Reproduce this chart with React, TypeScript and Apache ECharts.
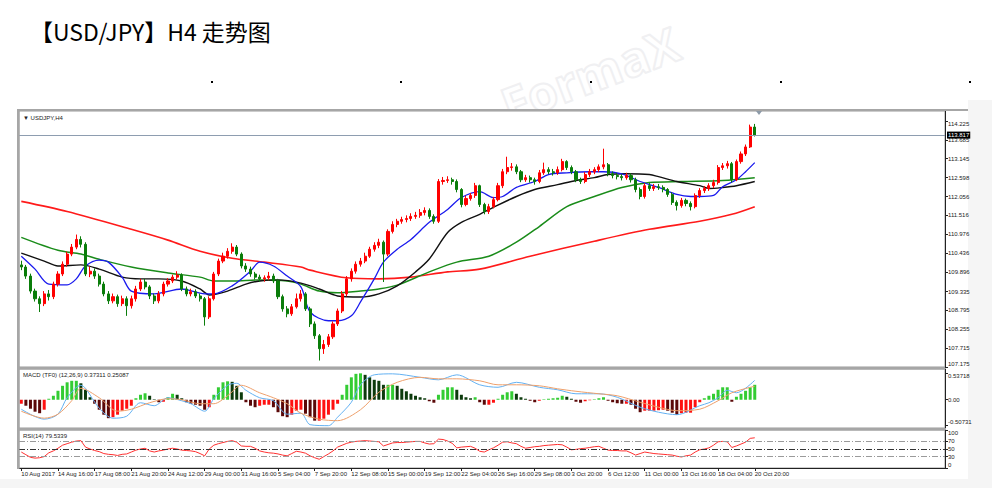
import React, { useEffect, useRef } from 'react';
import * as echarts from 'echarts';

const titleText = '【USD/JPY】H4 走势图';
const symbolLabel = '▼ USDJPY,H4';
const macdLabel = 'MACD (TF0) (12,26,9) 0.37311 0.25087';
const rsiLabel = 'RSI(14) 79.5339';

const timeLabels = ['10 Aug 2017', '14 Aug 16:00', '17 Aug 08:00', '21 Aug 20:00', '24 Aug 12:00', '29 Aug 00:00', '31 Aug 16:00', '5 Sep 04:00', '7 Sep 20:00', '12 Sep 08:00', '15 Sep 00:00', '19 Sep 12:00', '22 Sep 04:00', '26 Sep 16:00', '29 Sep 08:00', '3 Oct 20:00', '6 Oct 12:00', '11 Oct 00:00', '13 Oct 16:00', '18 Oct 04:00', '20 Oct 20:00'];
const barsPerLabel = 8;
const totalSlots = 202;

const priceTicks = ['114.225', '113.685', '113.145', '112.598', '112.056', '111.516', '110.976', '110.436', '109.896', '109.335', '108.795', '108.255', '107.715', '107.175'];
const macdTicks = ['0.53718', '0.00', '-0.50731'];
const rsiTicks = ['100', '70', '50', '30', '0'];
const rsiLevels = [70, 50, 30];

const opens = [110.10,110.04,109.78,109.35,109.13,108.99,109.27,109.19,109.55,109.84,
110.12,110.41,110.61,110.83,110.69,109.84,109.92,109.78,109.55,109.27,
109.07,109.19,108.99,109.13,108.93,109.13,109.41,109.61,109.47,109.21,
109.07,109.27,109.55,109.64,109.75,109.81,109.41,109.27,109.33,109.21,
109.13,108.61,109.13,109.84,110.21,110.35,110.49,110.61,110.41,110.07,
109.98,109.84,109.75,109.70,109.73,109.78,109.64,109.19,108.84,108.70,
108.90,109.13,109.27,108.84,108.41,108.07,107.70,107.82,108.04,108.41,
108.78,109.27,109.70,109.92,110.12,110.21,110.35,110.55,110.66,110.75,
110.41,111.06,111.26,111.35,111.40,111.43,111.49,111.52,111.60,111.66,
111.49,111.35,112.49,112.52,112.54,112.49,112.26,111.83,112.00,112.09,
112.37,111.83,111.63,111.77,111.97,112.37,112.77,112.89,112.91,112.77,
112.54,112.60,112.54,112.49,112.74,112.83,112.77,112.74,112.83,113.06,
112.89,112.77,112.54,112.49,112.69,112.77,112.83,112.91,112.97,112.71,
112.66,112.63,112.60,112.66,112.54,112.26,112.06,112.37,112.29,112.34,
112.32,112.26,112.12,111.89,111.80,111.95,111.86,111.77,112.09,112.23,
112.29,112.37,112.46,112.89,112.94,113.00,112.54,113.06,113.28,113.48,
114.05];

const closes = [110.04,109.78,109.35,109.13,108.99,109.27,109.19,109.55,109.84,110.12,
110.41,110.61,110.83,110.69,109.84,109.92,109.78,109.55,109.27,109.07,
109.19,108.99,109.13,108.93,109.13,109.41,109.61,109.47,109.21,109.07,
109.27,109.55,109.64,109.75,109.81,109.41,109.27,109.33,109.21,109.13,
108.61,109.13,109.84,110.21,110.35,110.49,110.61,110.41,110.07,109.98,
109.84,109.75,109.70,109.73,109.78,109.64,109.19,108.84,108.70,108.90,
109.13,109.27,108.84,108.41,108.07,107.70,107.82,108.04,108.41,108.78,
109.27,109.70,109.92,110.12,110.21,110.35,110.55,110.66,110.75,110.41,
111.06,111.26,111.35,111.40,111.43,111.49,111.52,111.60,111.66,111.49,
111.35,112.49,112.52,112.54,112.49,112.26,111.83,112.00,112.09,112.37,
111.83,111.63,111.77,111.97,112.37,112.77,112.89,112.91,112.77,112.54,
112.60,112.54,112.49,112.74,112.83,112.77,112.74,112.83,113.06,112.89,
112.77,112.54,112.49,112.69,112.77,112.83,112.91,112.97,112.71,112.66,
112.63,112.60,112.66,112.54,112.26,112.06,112.37,112.29,112.34,112.32,
112.26,112.12,111.89,111.80,111.95,111.86,111.77,112.09,112.23,112.29,
112.37,112.46,112.89,112.94,113.00,112.54,113.06,113.28,113.48,114.05,
113.817];

const lows = [109.95,109.70,109.28,109.05,108.75,108.92,109.08,109.12,109.48,109.78,
110.05,110.35,110.55,110.60,109.78,109.75,109.70,109.48,109.20,108.98,
109.00,108.90,108.92,108.64,108.85,109.05,109.35,109.40,109.12,108.98,
109.00,109.20,109.48,109.58,109.68,109.35,109.20,109.20,109.15,109.05,
108.36,108.55,109.08,109.78,110.15,110.28,110.42,110.35,110.00,109.90,
109.76,109.68,109.62,109.62,109.66,109.58,109.12,108.76,108.60,108.64,
108.85,109.05,108.78,108.32,107.98,107.36,107.55,107.75,107.98,108.35,
108.72,109.20,109.62,109.85,110.05,110.15,110.30,110.48,110.58,109.61,
110.35,111.00,111.18,111.28,111.32,111.36,111.42,111.45,111.52,111.42,
111.28,111.30,112.40,112.45,112.40,112.18,111.75,111.78,111.94,112.02,
111.76,111.55,111.56,111.72,111.92,112.30,112.70,112.80,112.70,112.47,
112.48,112.46,112.40,112.44,112.68,112.70,112.66,112.68,112.78,112.82,
112.70,112.47,112.42,112.44,112.62,112.70,112.76,112.84,112.64,112.58,
112.55,112.52,112.54,112.46,112.18,111.98,112.00,112.22,112.22,112.25,
112.18,112.05,111.82,111.66,111.74,111.78,111.66,111.72,112.02,112.16,
112.22,112.30,112.40,112.82,112.86,112.46,112.50,113.00,113.22,113.45,
113.78];

const highs = [110.22,110.10,109.85,109.42,109.20,109.35,109.38,109.62,109.92,110.20,
110.48,110.70,110.97,110.92,110.75,110.05,110.00,109.85,109.62,109.35,
109.28,109.25,109.22,109.20,109.22,109.50,109.70,109.70,109.52,109.28,
109.35,109.62,109.72,109.82,109.92,109.86,109.48,109.42,109.40,109.28,
109.18,109.20,109.90,110.28,110.45,110.58,110.72,110.67,110.46,110.15,
110.05,109.90,109.82,109.80,109.90,109.85,109.70,109.25,108.92,108.98,
109.28,109.38,109.32,108.90,108.48,108.12,107.95,108.12,108.48,108.85,
109.35,109.78,110.00,110.20,110.30,110.45,110.62,110.75,110.85,110.80,
111.12,111.35,111.42,111.48,111.52,111.58,111.62,111.70,111.75,111.72,
111.55,112.56,112.62,112.64,112.60,112.55,112.30,112.08,112.16,112.45,
112.40,111.88,111.85,112.05,112.45,112.85,113.20,113.02,112.98,112.82,
112.68,112.66,112.60,112.82,113.03,112.90,112.85,112.92,113.14,113.10,
112.95,112.82,112.60,112.76,112.85,112.90,112.98,113.43,113.02,112.78,
112.74,112.70,112.74,112.72,112.60,112.32,112.44,112.45,112.42,112.42,
112.38,112.30,112.18,111.95,112.02,112.00,111.92,112.15,112.30,112.36,
112.44,112.54,112.96,113.02,113.08,113.05,113.12,113.35,113.55,114.12,
114.14];

// moving averages read at sample bars: [bar index, value]
const maBlue = [[0,110.35],[3,109.98],[6,109.55],[10,109.53],[12,109.70],[14,110.07],[17,110.24],[19,110.18],[22,109.75],[24,109.35],[29,109.27],[35,109.41],[40,109.27],[42,109.27],[46,109.50],[50,109.92],[52,110.18],[55,110.07],[58,109.78],[61,109.47],[63,108.75],[67,108.50],[69,108.50],[72,108.64],[74,109.04],[77,109.70],[79,110.18],[82,110.55],[85,110.83],[89,111.32],[93,111.69],[96,112.03],[100,112.20],[103,112.03],[105,112.06],[108,112.32],[112,112.49],[115,112.69],[119,112.74],[124,112.77],[127,112.77],[131,112.71],[135,112.49],[139,112.32],[143,112.12],[146,112.06],[148,112.06],[151,112.09],[153,112.34],[156,112.54],[158,112.77],[160,113.03]];
const maBlack = [[0,110.44],[5,110.21],[8,110.07],[13,110.10],[17,109.98],[22,109.75],[26,109.70],[30,109.70],[35,109.64],[39,109.41],[41,109.24],[45,109.35],[49,109.55],[52,109.64],[56,109.67],[61,109.58],[65,109.41],[69,109.21],[74,109.18],[78,109.27],[82,109.50],[86,109.90],[89,110.27],[93,111.03],[96,111.32],[100,111.55],[103,111.75],[108,112.06],[112,112.26],[117,112.40],[121,112.52],[125,112.60],[128,112.69],[132,112.71],[137,112.69],[139,112.63],[143,112.49],[148,112.37],[150,112.29],[153,112.32],[156,112.37],[160,112.49]];
const maGreen = [[0,110.89],[8,110.52],[13,110.41],[17,110.26],[24,110.04],[32,109.87],[39,109.75],[42,109.64],[46,109.64],[52,109.67],[58,109.64],[61,109.55],[65,109.35],[69,109.30],[74,109.35],[78,109.41],[82,109.52],[89,109.90],[95,110.18],[102,110.35],[108,110.75],[113,111.20],[119,111.77],[125,112.06],[131,112.32],[137,112.46],[144,112.49],[153,112.52],[160,112.60]];
const maRed = [[0,111.92],[10,111.63],[24,111.12],[32,110.81],[39,110.49],[46,110.29],[53,110.18],[61,110.04],[63,109.95],[71,109.73],[78,109.70],[85,109.75],[93,109.90],[100,109.98],[111,110.35],[125,110.78],[137,111.12],[148,111.35],[155,111.55],[160,111.77]];

const macdHist = [-0.08,-0.12,-0.18,-0.24,-0.27,-0.20,0.02,0.08,0.18,0.28,
0.35,0.38,0.38,0.33,0.20,0.05,-0.08,-0.20,-0.30,-0.37,
-0.35,-0.30,-0.22,-0.18,-0.12,0.03,0.10,0.13,0.08,0.01,
-0.05,-0.04,0.05,0.12,0.10,0.03,-0.05,-0.08,-0.10,-0.12,
-0.20,-0.15,0.10,0.25,0.35,0.37,0.36,0.28,0.15,-0.05,
-0.12,-0.15,-0.12,-0.10,-0.10,-0.15,-0.25,-0.33,-0.35,-0.30,
-0.22,-0.20,-0.28,-0.35,-0.42,-0.42,-0.38,-0.30,-0.20,-0.08,
0.10,0.30,0.45,0.52,0.53,0.50,0.45,0.40,0.38,0.30,
0.30,0.30,0.28,0.22,0.17,0.12,0.08,0.05,0.03,-0.03,
-0.06,0.10,0.20,0.25,0.25,0.20,0.10,0.05,0.03,0.05,
-0.05,-0.10,-0.10,-0.06,0.02,0.10,0.15,0.17,0.12,0.05,
0.02,-0.02,-0.05,-0.02,0.01,0.02,0.03,0.04,0.08,0.06,
0.02,-0.04,-0.06,-0.03,-0.01,0.01,0.03,0.05,-0.02,-0.05,
-0.07,-0.08,-0.08,-0.10,-0.18,-0.25,-0.22,-0.22,-0.22,-0.21,
-0.20,-0.22,-0.26,-0.30,-0.27,-0.26,-0.26,-0.15,-0.05,0.03,
0.08,0.12,0.20,0.25,0.25,-0.04,0.06,0.12,0.18,0.25,
0.30];
const macdMain = [[0,-0.19],[5,-0.39],[8,-0.29],[10,0.04],[13,0.29],[14,0.23],[17,-0.17],[20,-0.37],[23,-0.33],[26,-0.06],[29,-0.12],[32,0.04],[35,-0.02],[37,-0.08],[40,-0.23],[42,0.02],[45,0.29],[47,0.33],[49,0.19],[52,0.04],[55,-0.02],[58,-0.29],[61,-0.27],[63,-0.50],[67,-0.52],[69,-0.35],[72,-0.05],[74,0.30],[77,0.50],[81,0.52],[87,0.45],[91,0.40],[95,0.50],[100,0.30],[104,0.25],[108,0.35],[113,0.25],[117,0.20],[121,0.12],[126,0.12],[130,0.05],[135,-0.15],[139,-0.25],[143,-0.30],[148,-0.12],[150,-0.06],[152,0.04],[154,0.19],[156,0.14],[160,0.39]];
const macdSignal = [[0,-0.23],[5,-0.37],[8,-0.29],[11,-0.02],[13,0.23],[17,0.04],[21,-0.23],[24,-0.19],[28,-0.06],[32,0.02],[35,0.0],[39,-0.08],[42,-0.08],[45,0.08],[48,0.29],[52,0.14],[55,0.04],[58,-0.08],[61,-0.27],[65,-0.39],[69,-0.42],[74,-0.20],[78,0.15],[82,0.35],[87,0.45],[91,0.42],[95,0.42],[100,0.38],[104,0.30],[108,0.30],[113,0.28],[117,0.22],[121,0.17],[126,0.12],[130,0.08],[135,-0.05],[139,-0.15],[143,-0.22],[148,-0.19],[152,-0.02],[155,0.14],[159,0.25],[160,0.27]];

const rsi = [42,35,28,26,27,30,40,45,52,60,
64,68,71,72,55,50,46,43,38,36,
35,33,36,37,42,47,50,52,45,42,
45,47,50,52,50,47,46,45,43,38,
32,50,60,64,67,70,72,68,58,57,
57,52,45,42,40,39,37,34,32,38,
44,42,39,32,27,23,30,37,45,55,
60,65,68,70,71,72,71,70,69,58,
62,66,67,67,68,69,70,70,66,63,
64,76,75,71,65,53,55,56,57,52,
44,42,48,53,60,68,69,66,64,57,
52,54,56,57,59,60,61,62,61,55,
48,49,51,52,54,56,57,52,47,46,
46,45,45,40,34,38,42,40,38,37,
36,35,34,31,29,32,34,42,48,50,
53,60,69,70,69,54,58,63,68,78,
79.5];

const FONT = 'Liberation Sans';

export default function App() {
  const ref = useRef<HTMLDivElement>(null);
  useEffect(() => {
    if (!ref.current) return;
    const chart = echarts.init(ref.current, undefined, { renderer: 'svg' });
    const cats = Array.from({ length: totalSlots }, (_, i) => String(i));
    const n = closes.length;
    const candles = closes.map((c, i) => [opens[i], c, lows[i], highs[i]]);
    const histData = macdHist.map((v, i) => {
      const prev = i > 0 ? macdHist[i - 1] : v;
      const rising = v >= prev;
      let color;
      if (v >= 0) color = rising ? '#33cc33' : '#0c3a0c';
      else color = rising ? '#ff1010' : '#5a0808';
      return { value: v, itemStyle: { color } };
    });
    const priceVals = priceTicks.map(Number);
    const macdVals = macdTicks.map(Number);
    const rsiVals = rsiTicks.map(Number);
    const labelAt = (idx: number) => idx % barsPerLabel === 0 && idx / barsPerLabel < timeLabels.length;
    const lastPrice = closes[n - 1];

    const axisText = { fontSize: 6, color: '#222', fontFamily: FONT };
    const gridBase = { left: 19, width: 926, show: true, borderColor: '#9a9a9a', borderWidth: 1, backgroundColor: '#fff' };
    const hiddenX = (gi: number) => ({
      type: 'category', gridIndex: gi, data: cats, boundaryGap: true,
      axisLine: { show: false }, axisTick: { show: false }, axisLabel: { show: false }, splitLine: { show: false },
    });
    const maLine = (data: number[][], color: string, width: number) => ({
      type: 'line', xAxisIndex: 0, yAxisIndex: 0, data, showSymbol: false, smooth: 0.3,
      lineStyle: { color, width }, silent: true, z: 3,
    });
    const yAx = (gi: number, min: number, max: number, vals: number[], texts: string[]) => ({
      type: 'value', gridIndex: gi, position: 'right', min, max,
      axisLine: { show: true, lineStyle: { color: '#222' } },
      axisTick: { show: true, length: 3, customValues: vals, lineStyle: { color: '#222' } },
      axisLabel: {
        show: true, customValues: vals, margin: 3, ...axisText,
        verticalAlignMinLabel: 'top', verticalAlignMaxLabel: 'bottom',
        formatter: (v: number) => texts[vals.indexOf(v)] ?? '',
      },
      splitLine: { show: false },
    });

    const option: any = {
      animation: false,
      backgroundColor: '#fff',
      textStyle: { fontFamily: FONT },
      grid: [
        { ...gridBase, top: 111, height: 256 },
        { ...gridBase, top: 369, height: 59 },
        { ...gridBase, top: 430, height: 38 },
      ],
      xAxis: [
        hiddenX(0),
        hiddenX(1),
        {
          type: 'category', gridIndex: 2, data: cats, boundaryGap: true,
          axisLine: { show: true, lineStyle: { color: '#222', width: 1 } },
          axisTick: { show: true, interval: (i: number) => labelAt(i), alignWithLabel: true, length: 3, lineStyle: { color: '#222' } },
          axisLabel: {
            show: true, interval: (i: number) => labelAt(i), align: 'left', margin: 3, ...axisText,
            showMinLabel: true, showMaxLabel: true, hideOverlap: false,
            formatter: (_v: string, i: number) => (labelAt(i) ? timeLabels[i / barsPerLabel] : ''),
          },
          splitLine: { show: false },
        },
      ],
      yAxis: [
        yAx(0, 107.175, 114.51, priceVals, priceTicks),
        yAx(1, -0.567, 0.617, macdVals, macdTicks),
        yAx(2, 0, 100, rsiVals, rsiTicks),
      ],
      series: [
        maLine(maRed, '#ff1a1a', 1.6),
        maLine(maGreen, '#1a8c1a', 1.5),
        maLine(maBlack, '#111111', 1.4),
        maLine(maBlue, '#1a1aee', 1.3),
        {
          type: 'candlestick', xAxisIndex: 0, yAxisIndex: 0, data: candles, barWidth: 2.6, z: 4,
          itemStyle: { color: '#ff0000', color0: '#0a7d0a', borderColor: '#ff0000', borderColor0: '#0a7d0a', borderWidth: 1 },
          markLine: {
            silent: true, symbol: 'none', animation: false,
            lineStyle: { color: '#8e9db0', width: 1, type: 'solid' },
            label: {
              show: true, position: 'end', distance: 2, formatter: lastPrice.toFixed(3),
              backgroundColor: '#000', color: '#fff', fontSize: 6, fontFamily: FONT, padding: [0, 1], lineHeight: 7,
            },
            data: [{ yAxis: lastPrice }],
          },
        },
        {
          type: 'bar', xAxisIndex: 1, yAxisIndex: 1, data: histData, barWidth: 3, silent: true,
        },
        {
          type: 'line', xAxisIndex: 1, yAxisIndex: 1, data: macdMain, showSymbol: false, smooth: 0.3,
          lineStyle: { color: '#63b1f2', width: 1 }, silent: true, z: 3,
        },
        {
          type: 'line', xAxisIndex: 1, yAxisIndex: 1, data: macdSignal, showSymbol: false, smooth: 0.3,
          lineStyle: { color: '#eea06c', width: 1 }, silent: true, z: 3,
        },
        {
          type: 'line', xAxisIndex: 2, yAxisIndex: 2, data: rsi, showSymbol: false,
          lineStyle: { color: '#ff3030', width: 1 }, silent: true, z: 3,
          markLine: {
            silent: true, symbol: 'none', label: { show: false },
            data: rsiLevels.map((lv) => ({
              yAxis: lv,
              lineStyle: { color: lv === 50 ? '#333' : '#9a9a9a', width: 1, type: [6, 2, 1, 2] },
            })),
          },
        },
      ],
      graphic: [
        { type: 'rect', shape: { x: 968, y: 100, width: 24, height: 388 }, style: { fill: '#f5f5f5' }, silent: true, z: -10 },
        { type: 'rect', shape: { x: 0, y: 479, width: 992, height: 9 }, style: { fill: '#f5f5f5' }, silent: true, z: -10 },
        {
          type: 'text', x: 590, y: 74, rotation: 0.36, silent: true, z: -5,
          style: { text: 'FormaX', fontSize: 48, fontFamily: 'Open Sans', fontWeight: 'bold', fill: 'rgba(0,0,0,0)', stroke: '#f0f0f2', lineWidth: 2, textAlign: 'center', textVerticalAlign: 'middle' },
        },
        {
          type: 'text', x: 30, y: 31, silent: true,
          style: { text: titleText, fontSize: 23, fontFamily: 'Noto Sans CJK SC', fill: '#000', textVerticalAlign: 'middle' },
        },
        ...[212, 401, 591, 781, 970].map((dx) => ({
          type: 'rect', shape: { x: dx - 1, y: 81, width: 2, height: 2 }, style: { fill: '#000' }, silent: true,
        })),
        { type: 'rect', shape: { x: 17, y: 109, width: 951, height: 2 }, style: { fill: '#a6a6a6' }, silent: true, z: 10 },
        { type: 'rect', shape: { x: 17, y: 109, width: 2.5, height: 360 }, style: { fill: '#a6a6a6' }, silent: true, z: 10 },
        { type: 'rect', shape: { x: 19, y: 367, width: 926, height: 2.5 }, style: { fill: '#a6a6a6' }, silent: true, z: 10 },
        { type: 'rect', shape: { x: 19, y: 428, width: 926, height: 2.5 }, style: { fill: '#a6a6a6' }, silent: true, z: 10 },
        { type: 'text', x: 23, y: 117.5, silent: true, style: { text: symbolLabel, fontSize: 6, fontFamily: FONT, fill: '#222', textVerticalAlign: 'middle' } },
        { type: 'text', x: 23, y: 375, silent: true, style: { text: macdLabel, fontSize: 6, fontFamily: FONT, fill: '#222', textVerticalAlign: 'middle' } },
        { type: 'text', x: 23, y: 435.5, silent: true, style: { text: rsiLabel, fontSize: 6, fontFamily: FONT, fill: '#222', textVerticalAlign: 'middle' } },
        { type: 'polygon', shape: { points: [[756, 111], [762, 111], [759, 115]] }, style: { fill: '#8c9aa8' }, silent: true, z: 11 },
      ],
    };
    chart.setOption(option);
    return () => chart.dispose();
  }, []);
  return <div ref={ref} style={{ position: 'fixed', left: 0, top: 0, width: 992, height: 488, background: '#fff' }} />;
}
